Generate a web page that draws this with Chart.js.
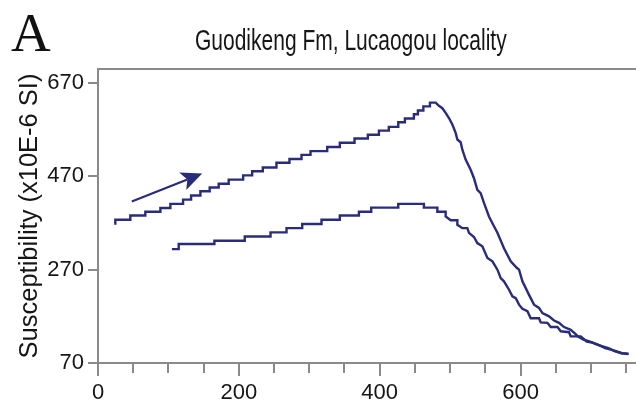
<!DOCTYPE html>
<html><head><meta charset="utf-8">
<script src="https://cdn.jsdelivr.net/npm/chart.js@4/dist/chart.umd.min.js"></script>
<style>html,body{margin:0;padding:0;background:#fff;overflow:hidden}canvas{display:block}</style>
</head><body>
<canvas id="c" width="636" height="406"></canvas>
<script>
// ---- Data (temperature °C, susceptibility x10E-6 SI) ----
const xTickValues = [0,50,100,150,200,250,300,350,400,450,500,550,600,650,700,750];
const xLabelValues = [0,200,400,600];
const yTickValues = [70,270,470,670];

// Heating curve: start, stepped rise, then decline
const heatStart = [24.6, 366];
const heatStepT = [24.6,45.9,67.2,88.6,102.8,120.8,132.2,145.4,158.6,171.4,185.6,206.1,218.9,234,253.4,271.9,289,301.8,325.5,343.4,364.3,383.2,398.9,413,426.4,435.8,448.6,454.3,462,471.4];
const heatStepK = [377,386,394,402,411,420,429,438,446,454,463,472,481,489,499,507,516,524,533,542,551,559,568,576,586,594,603,611,620,628];
const heatFallT = [479.5,484.1,489,493.7,498.4,503.2,507.9,510.3,515,517.4,522.1,529.2,533.9,538.7,543.4,548.1,555.2,562.3,567.2,576.5,586.1,594.6,597.9,602.7,612.1,619.2,626.3,631.1,640.5,647.6,654.7,661.8,671.3,677.5,682.3,689.4,698.8,705.9,715.4,724.9,734.3,743.8,753.4];
const heatFallK = [628,621,616,606,595,581,563,549,543,527,506,484,466,441,434,413,384,363,349,316,288,274,270,245,216,195,188,177,170,161,156,147,141,133,126,120,116,111,106,102,95,91,89];

// Cooling curve: start, stepped part, then decline
const coolStart = [105, 314];
const coolStepT = [114.6,165.3,208.4,245,267.7,290,317.4,343.4,370.5,388,426.4];
const coolStepK = [325,332,341,350,359,368,377,386,394,403,411];
const coolFallT = [462.8,462.8,481.9,481.9,493.7,493.7,500.8,510.3,510.3,517.4,524.5,526.8,533.9,538.7,545.8,553,560.1,567.2,571.9,576.5,583.7,588.5,593.2,597.9,602.7,609.8,614.5,626.3,628.7,638.2,642.9,652.4,657.2,668.9,671.3,685.5,694.1,703.6,710.7,720.1,727.2,736.7,743.8,753.4];
const coolFallK = [411,403,403,394,394,384,376,376,366,359,359,349,340,327,320,295,288,270,252,245,227,213,209,195,186,181,166,166,157,156,147,147,138,136,127,127,116,113,109,102,99,95,91,90];

// Heating direction arrow (data coordinates)
const arrowFrom = [48, 416];
const arrowTo = [148, 476];

function buildPoints(start, stepT, stepK, fallT, fallK) {
  const pts = [{x: start[0], y: start[1]}];
  let prev = start[1];
  for (let i = 0; i < stepT.length; i++) {
    pts.push({x: stepT[i], y: prev});
    pts.push({x: stepT[i], y: stepK[i]});
    prev = stepK[i];
  }
  for (let i = 0; i < fallT.length; i++) pts.push({x: fallT[i], y: fallK[i]});
  return pts;
}
const heatPts = buildPoints(heatStart, heatStepT, heatStepK, heatFallT, heatFallK);
const coolPts = buildPoints(coolStart, coolStepT, coolStepK, coolFallT, coolFallK);

const AXIS = '#8a8a8a';
const LINE = '#292c7b';
const TEXT = '#161616';
const FONT = "'Liberation Sans', Arial, Helvetica, sans-serif";

const decor = {
  id: 'decor',
  afterDraw(chart) {
    const ctx = chart.ctx;
    const xs = chart.scales.x, ys = chart.scales.y;
    ctx.save();
    // Panel letter
    ctx.fillStyle = '#111';
    ctx.font = "55px 'Liberation Serif', 'Times New Roman', serif";
    ctx.textBaseline = 'alphabetic';
    ctx.textAlign = 'left';
    ctx.fillText('A', 11, 51);
    // Condensed title
    ctx.font = '30px ' + FONT;
    ctx.fillStyle = TEXT;
    ctx.translate(195, 50);
    ctx.scale(0.70, 1);
    ctx.fillText('Guodikeng Fm, Lucaogou locality', 0, 0);
    ctx.restore();

    // Longer major ticks on x axis
    ctx.save();
    ctx.strokeStyle = AXIS;
    ctx.lineWidth = 2;
    const yb = chart.chartArea.bottom;
    xLabelValues.forEach(v => {
      const px = Math.round(xs.getPixelForValue(v));
      ctx.beginPath();
      ctx.moveTo(px, yb + 9);
      ctx.lineTo(px, yb + 13);
      ctx.stroke();
    });
    ctx.restore();

    // Arrow
    const x1 = xs.getPixelForValue(arrowFrom[0]), y1 = ys.getPixelForValue(arrowFrom[1]);
    const x2 = xs.getPixelForValue(arrowTo[0]), y2 = ys.getPixelForValue(arrowTo[1]);
    const dx = x2 - x1, dy = y2 - y1, len = Math.hypot(dx, dy);
    const ux = dx / len, uy = dy / len, nx = -uy, ny = ux;
    const L = 21, W = 9.5, notch = 5;
    ctx.save();
    ctx.strokeStyle = LINE;
    ctx.fillStyle = LINE;
    ctx.lineWidth = 2.2;
    ctx.beginPath();
    ctx.moveTo(x1, y1);
    ctx.lineTo(x2 - ux * (L - notch), y2 - uy * (L - notch));
    ctx.stroke();
    ctx.beginPath();
    ctx.moveTo(x2, y2);
    ctx.lineTo(x2 - ux * L + nx * W, y2 - uy * L + ny * W);
    ctx.lineTo(x2 - ux * (L - notch), y2 - uy * (L - notch));
    ctx.lineTo(x2 - ux * L - nx * W, y2 - uy * L - ny * W);
    ctx.closePath();
    ctx.fill();
    ctx.restore();
  }
};

new Chart(document.getElementById('c').getContext('2d'), {
  type: 'line',
  data: {
    datasets: [
      {label: 'Heating', data: heatPts, borderColor: LINE, borderWidth: 2.4, pointRadius: 0, fill: false, tension: 0},
      {label: 'Cooling', data: coolPts, borderColor: LINE, borderWidth: 2.4, pointRadius: 0, fill: false, tension: 0}
    ]
  },
  options: {
    responsive: false,
    animation: false,
    devicePixelRatio: 1,
    layout: {padding: {top: 69, left: 0, right: 0, bottom: 0}},
    plugins: {legend: {display: false}, tooltip: {enabled: false}, title: {display: false}},
    scales: {
      x: {
        type: 'linear', position: 'bottom', min: 0, max: 764,
        afterBuildTicks: s => { s.ticks = xTickValues.map(v => ({value: v})); },
        afterFit: s => { s.height = 43; },
        grid: {drawOnChartArea: false, drawTicks: true, tickLength: 10, color: AXIS, lineWidth: 2},
        border: {display: true, color: AXIS, width: 2},
        ticks: {autoSkip: false, maxRotation: 0, padding: 7, color: TEXT,
          font: {family: FONT, size: 22},
          callback: v => xLabelValues.includes(v) ? String(v) : ''}
      },
      xTop: {
        type: 'linear', position: 'top', min: 0, max: 764,
        afterFit: s => { s.height = 0; },
        grid: {display: false, drawTicks: false},
        ticks: {display: false},
        border: {display: true, color: AXIS, width: 2}
      },
      y: {
        type: 'linear', min: 70, max: 700,
        afterBuildTicks: s => { s.ticks = yTickValues.map(v => ({value: v})); },
        afterFit: s => { s.width = 98; },
        grid: {drawOnChartArea: false, drawTicks: true, tickLength: 10, color: AXIS, lineWidth: 2},
        border: {display: true, color: AXIS, width: 2},
        ticks: {padding: 4, color: TEXT, font: {family: FONT, size: 22}},
        title: {display: true, text: 'Susceptibility (x10E-6 SI)', color: TEXT,
          font: {family: FONT, size: 25.5}, padding: {top: 15, bottom: 0}}
      }
    }
  },
  plugins: [decor]
});
</script>
</body></html>
